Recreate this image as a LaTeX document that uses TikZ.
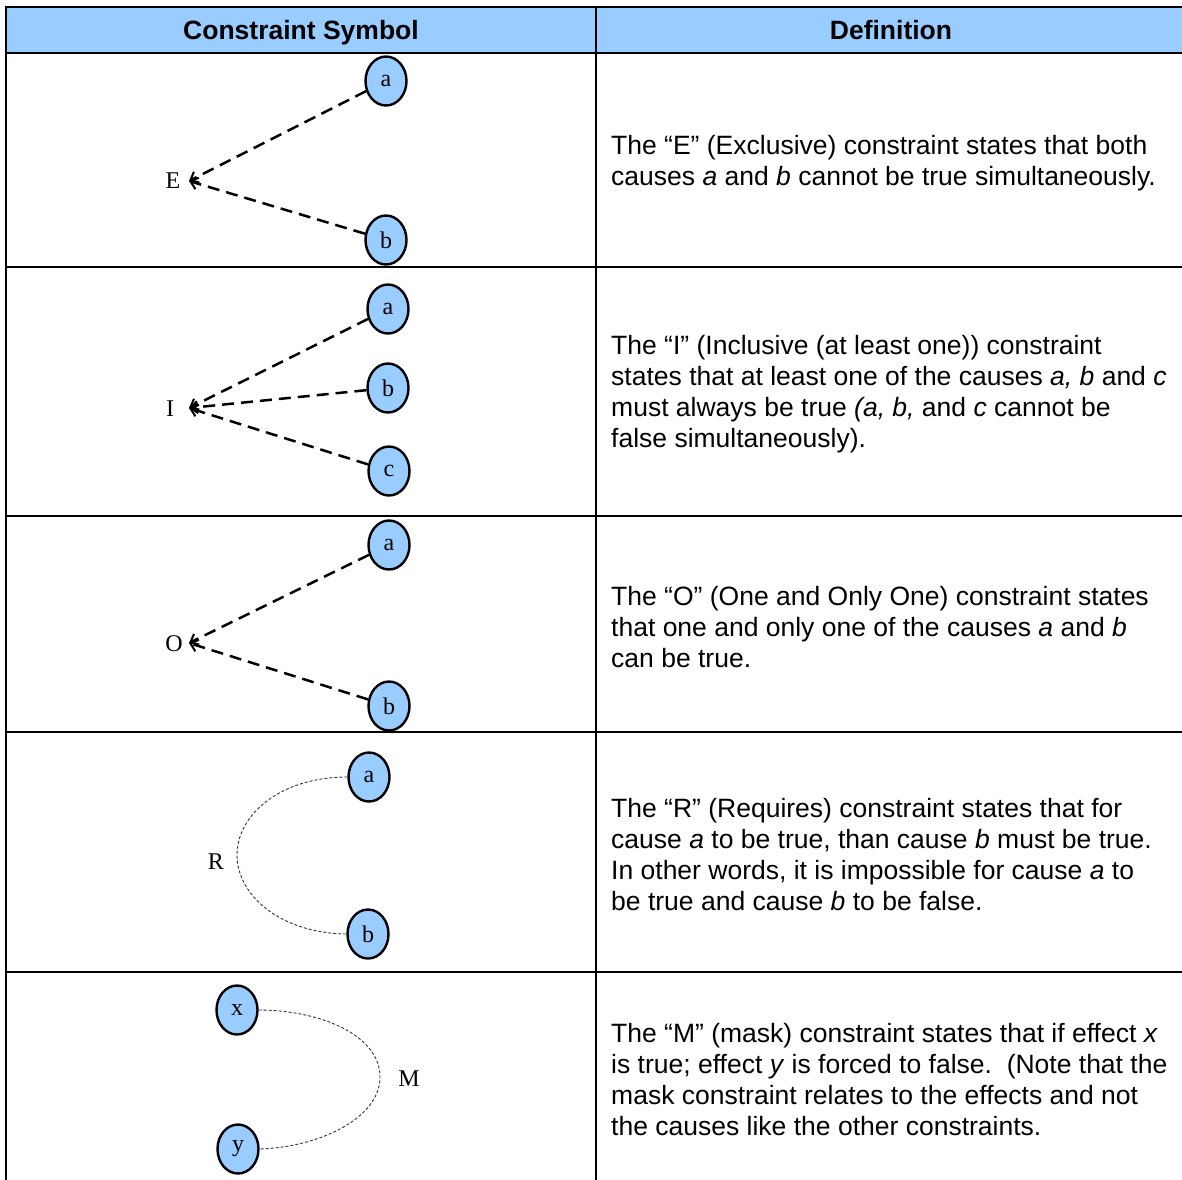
\documentclass[tikz,border=0pt]{standalone}
\usepackage{fontspec}
\setmainfont{Liberation Serif}
\newfontfamily\arialf{Liberation Sans}
\usetikzlibrary{shapes.geometric,arrows.meta}
\definecolor{hdrblue}{RGB}{153,204,255}
\tikzset{
  cnode/.style={ellipse, draw=black, line width=2.4pt, fill=hdrblue, minimum width=41pt, minimum height=49pt, inner sep=0pt, font=\fontsize{24}{28}\selectfont},
  clabel/.style={font=\fontsize{24}{28}\selectfont, inner sep=0pt},
  thickdash/.style={line width=2.5pt, dash pattern=on 12pt off 7pt, -{Straight Barb[length=7pt,width=12pt,line width=2pt]}},
  thindash/.style={line width=0.9pt, dash pattern=on 3pt off 2pt, draw=black!80},
  deftext/.style={anchor=west, align=left, inner sep=0pt, font=\arialf\fontsize{26.5}{31}\selectfont},
  hdrtext/.style={anchor=base, font=\arialf\bfseries\fontsize{26.5}{30}\selectfont, inner sep=0pt},
  grid/.style={line width=2.8pt, draw=black}
}
\begin{document}
\begin{tikzpicture}[x=1pt,y=-1pt]
\useasboundingbox (0,0) rectangle (1182,1179);
\clip (0,0) rectangle (1182,1179);
% header
\fill[hdrblue] (6,7) rectangle (1190,53);
\draw[grid] (6,7) -- (1190,7);
\draw[grid] (6,53) -- (1190,53);
\foreach \yy in {267,516,732,972} \draw[grid] (6,\yy) -- (1190,\yy);
\draw[grid] (6,5.6) -- (6,1190);
\draw[grid] (596,5.6) -- (596,1190);
\node[hdrtext] (h1) at (301,39) {Constraint Symbol};
\node[hdrtext] (h2) at (891,39) {Definition};

% Row 1: E
\node[clabel] (E) at (173,181) {E};
\coordinate (Etip) at (189,181);
\node[cnode] (Ea) at (386,81) {a};
\node[cnode] (Eb) at (386,240) {b};
\draw[thickdash] (Ea) -- (Etip);
\draw[thickdash] (Eb) -- (Etip);
\node[deftext] (t1) at (611,163) {The “E” (Exclusive) constraint states that both\\causes \textit{a} and \textit{b} cannot be true simultaneously.};

% Row 2: I
\node[clabel] (I) at (170,409) {I};
\coordinate (Itip) at (189,408);
\node[cnode] (Ia) at (388,309) {a};
\node[cnode] (Ib) at (388,388) {b};
\node[cnode] (Ic) at (389,471) {c};
\draw[thickdash] (Ia) -- (Itip);
\draw[thickdash] (Ib) -- (Itip);
\draw[thickdash] (Ic) -- (Itip);
\node[deftext] (t2) at (611,394) {The “I” (Inclusive (at least one)) constraint\\states that at least one of the causes \textit{a, b} and \textit{c}\\must always be true \textit{(a, b,} and \textit{c} cannot be\\false simultaneously).};

% Row 3: O
\node[clabel] (O) at (174,644) {O};
\coordinate (Otip) at (189,643);
\node[cnode] (Oa) at (389,545) {a};
\node[cnode] (Ob) at (389,706) {b};
\draw[thickdash] (Oa) -- (Otip);
\draw[thickdash] (Ob) -- (Otip);
\node[deftext] (t3) at (611,627) {The “O” (One and Only One) constraint states\\that one and only one of the causes \textit{a} and \textit{b}\\can be true.};

% Row 4: R
\node[clabel] (R) at (216,862) {R};
\node[cnode] (Ra) at (369,777) {a};
\node[cnode] (Rb) at (368,934) {b};
\draw[thindash] (Ra.west) .. controls (280,777) and (237,815) .. (237,855) .. controls (237,895) and (280,933) .. (Rb.west);
\node[deftext] (t4) at (611,855) {The “R” (Requires) constraint states that for\\cause \textit{a} to be true, than cause \textit{b} must be true.\\In other words, it is impossible for cause \textit{a} to\\be true and cause \textit{b} to be false.};

% Row 5: M
\node[clabel] (M) at (409,1079) {M};
\node[cnode] (Mx) at (237,1010) {x};
\node[cnode] (My) at (238,1149) {y};
\draw[thindash] (Mx.east) .. controls (320,1010) and (380,1035) .. (380,1077) .. controls (380,1118) and (320,1147) .. (My.east);
\node[deftext] (t5) at (611,1080) {The “M” (mask) constraint states that if effect \textit{x}\\is true; effect \textit{y} is forced to false.\ \ (Note that the\\mask constraint relates to the effects and not\\the causes like the other constraints.};
\end{tikzpicture}
\end{document}
